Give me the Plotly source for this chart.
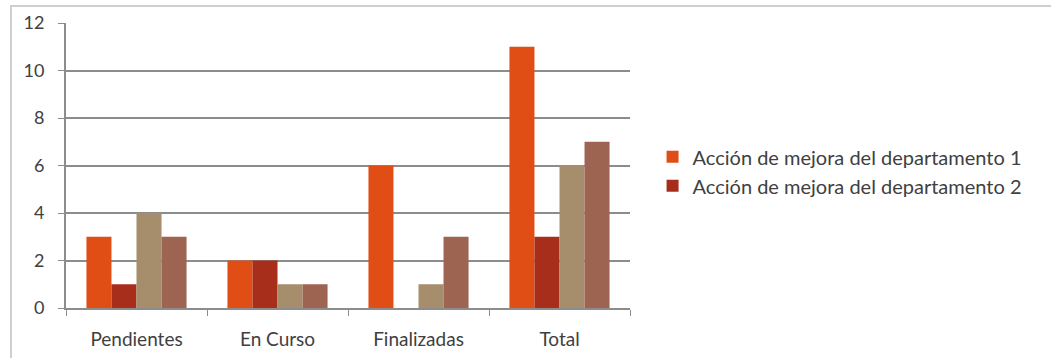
import plotly.graph_objects as go

categories = ["Pendientes", "En Curso", "Finalizadas", "Total"]
dept1 = [3, 2, 6, 11]
dept2 = [1, 2, 0, 3]
serie3 = [4, 1, 1, 6]
serie4 = [3, 1, 3, 7]
names = ["Acción de mejora del departamento 1", "Acción de mejora del departamento 2",
         "Serie 3", "Serie 4"]
colors = ["#E04E16", "#A82E1C", "#A68D6B", "#9E6452"]
show = [True, True, False, False]

fig = go.Figure()
for vals, name, col, sl in zip([dept1, dept2, serie3, serie4], names, colors, show):
    fig.add_trace(go.Bar(x=categories, y=vals, name=name, marker_color=col,
                         marker_line_width=0, showlegend=sl))

font_fam = "Lato, 'Open Sans', sans-serif"
PW, PH = 564, 285
fig.update_layout(
    width=1051, height=358,
    margin=dict(l=66, r=421, t=23, b=50),
    plot_bgcolor="white", paper_bgcolor="white",
    barmode="group", bargap=0.29, bargroupgap=0,
    font=dict(family=font_fam, size=16, color="#404040"),
    legend=dict(x=1.04, y=0.48, xanchor="left", yanchor="middle",
                font=dict(size=20, color="#404040"), itemwidth=30,
                tracegroupgap=0, bgcolor="rgba(0,0,0,0)"),
    xaxis=dict(showline=True, linecolor="#8c8c8c", linewidth=2,
               ticks="outside", tickcolor="#8c8c8c", ticklen=6,
               tickson="boundaries", tickfont=dict(size=19),
               ticklabelstandoff=13, range=[-0.5, 3.5], automargin=False),
    yaxis=dict(range=[0, 12], dtick=2, showgrid=True, gridcolor="#8c8c8c",
               gridwidth=2, showline=True, linecolor="#8c8c8c", linewidth=2,
               ticks="outside", tickcolor="#8c8c8c", ticklen=6,
               tickfont=dict(size=18), ticklabelstandoff=10, zeroline=False,
               automargin=False),
    shapes=[dict(type="rect", xref="paper", yref="paper",
                 x0=(11 - 66) / PW, x1=1.0 + 500 / PW, y0=-100 / PH, y1=1.0 + 17 / PH,
                 line=dict(color="#cfcfcf", width=2))],
)

fig.write_html("out.html")
